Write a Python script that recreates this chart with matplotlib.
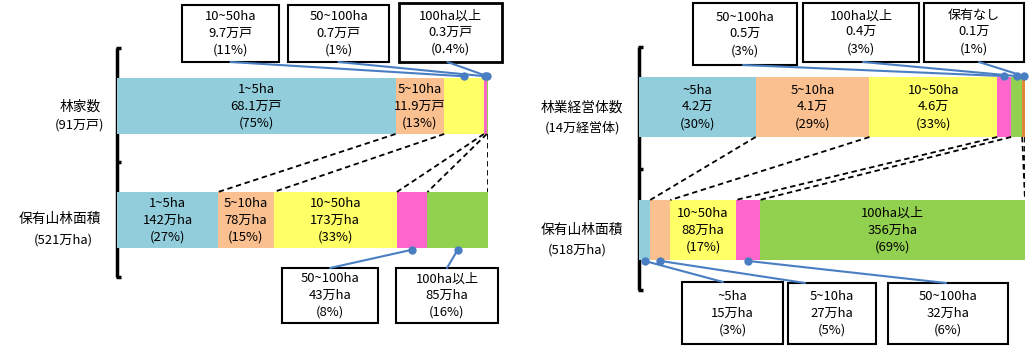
import numpy as np
import matplotlib
matplotlib.use("Agg")
import matplotlib.pyplot as plt
from matplotlib.patches import Rectangle, ConnectionPatch

plt.rcParams['font.family'] = ['Noto Sans CJK JP', 'DejaVu Sans']

W, H = 1031, 346

# left panel data
l_cats = ['1~5ha', '5~10ha', '10~50ha', '50~100ha', '100ha以上']
l_top = [68.1, 11.9, 9.7, 0.7, 0.3]          # 万戸
l_top_pct = ['75%', '13%', '11%', '1%', '0.4%']
l_bot = [142, 78, 173, 43, 85]                # 万ha
l_bot_pct = ['27%', '15%', '33%', '8%', '16%']

# right panel data
r_cats = ['~5ha', '5~10ha', '10~50ha', '50~100ha', '100ha以上', '保有なし']
r_top = [4.2, 4.1, 4.6, 0.5, 0.4, 0.1]        # 万経営体
r_top_pct = ['30%', '29%', '33%', '3%', '3%', '1%']
r_bot = [15, 27, 88, 32, 356]                 # 万ha
r_bot_pct = ['3%', '5%', '17%', '6%', '69%']

colors = ['#92CDDC', '#FAC090', '#FFFF66', '#FF66CC', '#92D050', '#E0893A']
line_blue = '#4A7EC2'
fs = 9.4
ls = 1.38

fig = plt.figure(figsize=(W / 100, H / 100), dpi=100)
ov = fig.add_axes([0, 0, 1, 1])
ov.set_xlim(0, W)
ov.set_ylim(H, 0)
ov.axis('off')


def bar_axes(x0, x1, y0, y1):
    ax = fig.add_axes([x0 / W, 1 - y1 / H, (x1 - x0) / W, (y1 - y0) / H])
    ax.set_xlim(0, 1)
    ax.set_ylim(0, 1)
    ax.axis('off')
    return ax


def box(x0, y0, x1, y1, lines, lw=1.5):
    ov.add_patch(Rectangle((x0, y0), x1 - x0, y1 - y0, fill=False, ec='black', lw=lw))
    ov.text((x0 + x1) / 2, (y0 + y1) / 2, '\n'.join(lines), ha='center', va='center',
            fontsize=fs, linespacing=ls)


def leader(ax, xd, yd, px, py):
    con = ConnectionPatch(xyA=(xd, yd), coordsA=ax.transData, xyB=(px, py), coordsB=ov.transData,
                          color=line_blue, lw=1.5)
    fig.add_artist(con)
    ax.plot([xd], [yd], 'o', color=line_blue, ms=5, clip_on=False, zorder=5)


def stacked(ax, vals, y, h):
    v = np.array(vals, dtype=float)
    frac = v / v.sum()
    left = np.concatenate([[0], np.cumsum(frac)[:-1]])
    ax.barh(y, frac, left=left, height=h, color=colors[:len(v)], edgecolor='none')
    return left, frac


def bracket(x, y0, ym, y1):
    ov.plot([x, x], [y0, y1], color='black', lw=2.5, solid_capstyle='butt')
    for yy in (y0, ym, y1):
        ov.plot([x - 1, x + 4], [yy, yy], color='black', lw=2.5, solid_capstyle='butt')


# ---------------- left panel ----------------
hL = 56 / 170
axL = bar_axes(117, 488, 78, 248)
tl, tf = stacked(axL, l_top, 1 - hL / 2, hL)
bl, bf = stacked(axL, l_bot, hL / 2, hL)

for i in range(2):
    axL.text(tl[i] + tf[i] / 2, 1 - hL / 2, f'{l_cats[i]}\n{l_top[i]}万戸\n({l_top_pct[i]})',
             ha='center', va='center', fontsize=fs, linespacing=ls)
for i in range(3):
    axL.text(bl[i] + bf[i] / 2, hL / 2, f'{l_cats[i]}\n{l_bot[i]}万ha\n({l_bot_pct[i]})',
             ha='center', va='center', fontsize=fs, linespacing=ls)

tb = np.cumsum(tf)
bb = np.cumsum(bf)
for i in range(len(l_bot)):
    axL.plot([tb[i], bb[i]], [1 - hL, hL], color='black', lw=1.3, ls=(0, (3, 2)))

bracket(117, 48, 162, 277)
ov.text(80, 107, '林家数', ha='center', va='center', fontsize=fs + 0.5)
ov.text(80, 125, '(91万戸)', ha='center', va='center', fontsize=fs)
ov.text(60, 219, '保有山林面積', ha='center', va='center', fontsize=fs + 0.5)
ov.text(63, 240, '(521万ha)', ha='center', va='center', fontsize=fs)

top_boxes_L = [(182, 5, 279, 62), (288, 5, 389, 62), (399, 3, 502, 62)]
for k, (x0, y0, x1, y1) in enumerate(top_boxes_L):
    i = k + 2
    box(x0, y0, x1, y1, [l_cats[i], f'{l_top[i]}万戸', f'({l_top_pct[i]})'], lw=2 if k == 2 else 1.5)
    leader(axL, tl[i] + tf[i] / 2, 1.01, (x0 + x1) / 2 + (0 if k < 2 else -3), y1)

bot_boxes_L = [(282, 268, 378, 323), (396, 268, 498, 323)]
for k, (x0, y0, x1, y1) in enumerate(bot_boxes_L):
    i = k + 3
    box(x0, y0, x1, y1, [l_cats[i], f'{l_bot[i]}万ha', f'({l_bot_pct[i]})'])
    leader(axL, bl[i] + bf[i] / 2, -0.01, (x0 + x1) / 2, y0)

# ---------------- right panel ----------------
hR = 60 / 183
axR = bar_axes(639, 1025, 77, 260)
rtl, rtf = stacked(axR, r_top, 1 - hR / 2, hR)
rbl, rbf = stacked(axR, r_bot, hR / 2, hR)

for i in range(3):
    axR.text(rtl[i] + rtf[i] / 2, 1 - hR / 2, f'{r_cats[i]}\n{r_top[i]}万\n({r_top_pct[i]})',
             ha='center', va='center', fontsize=fs, linespacing=ls)
for i in (2, 4):
    axR.text(rbl[i] + rbf[i] / 2, hR / 2, f'{r_cats[i]}\n{r_bot[i]}万ha\n({r_bot_pct[i]})',
             ha='center', va='center', fontsize=fs, linespacing=ls)

rtb = np.cumsum(rtf)
rbb = np.cumsum(rbf)
for i in range(len(r_bot)):
    axR.plot([rtb[i], rbb[i]], [1 - hR, hR], color='black', lw=1.3, ls=(0, (3, 2)))
axR.plot([rtb[-1], rbb[-1]], [1 - hR, hR], color='black', lw=1.3, ls=(0, (3, 2)))

bracket(639, 47, 169, 290)
ov.text(582, 108, '林業経営体数', ha='center', va='center', fontsize=fs + 0.5)
ov.text(582, 128, '(14万経営体)', ha='center', va='center', fontsize=fs)
ov.text(582, 230, '保有山林面積', ha='center', va='center', fontsize=fs + 0.5)
ov.text(577, 250, '(518万ha)', ha='center', va='center', fontsize=fs)

top_boxes_R = [(693, 3, 797, 65), (803, 3, 919, 62), (924, 3, 1024, 62)]
for k, (x0, y0, x1, y1) in enumerate(top_boxes_R):
    i = k + 3
    box(x0, y0, x1, y1, [r_cats[i], f'{r_top[i]}万', f'({r_top_pct[i]})'])
    leader(axR, rtl[i] + rtf[i] / 2, 1.005, [743, 863, 979][k], y1)

bot_boxes_R = [(682, 282, 783, 344), (788, 283, 876, 344), (888, 283, 1008, 344)]
for k, (x0, y0, x1, y1) in enumerate(bot_boxes_R):
    i = [0, 1, 3][k]
    box(x0, y0, x1, y1, [r_cats[i], f'{r_bot[i]}万ha', f'({r_bot_pct[i]})'])
    leader(axR, rbl[i] + rbf[i] / 2, -0.005, [723, 805, 946][k], y0)

fig.savefig('out.png', dpi=100)
